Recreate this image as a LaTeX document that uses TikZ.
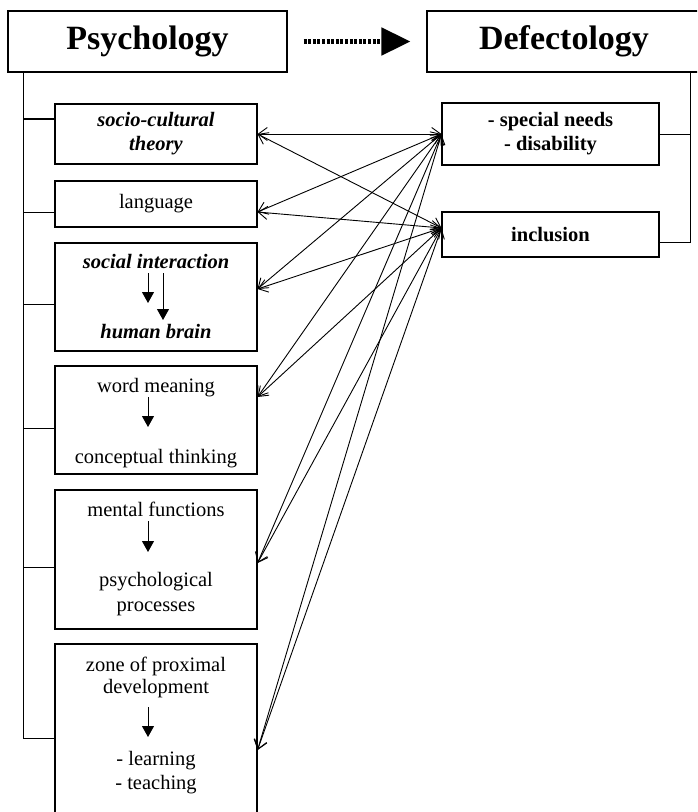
\documentclass[tikz,border=0pt]{standalone}
\usepackage{fontspec}
\setmainfont{Liberation Serif}
\usetikzlibrary{arrows.meta}
\begin{document}
\begin{tikzpicture}[x=1pt,y=-1pt,
  box/.style={draw, line width=1.1pt, inner sep=0pt, align=center, font=\fontsize{20.5}{24}\selectfont},
  bigbox/.style={draw, line width=1.1pt, inner sep=0pt, font=\fontsize{34}{40}\selectfont\bfseries},
  txt/.style={inner sep=0pt, anchor=base, font=\fontsize{20.5}{24}\selectfont},
  bitxt/.style={txt, font=\fontsize{20.5}{24}\selectfont\bfseries\itshape},
  link/.style={line width=0.9pt, {Straight Barb[length=9pt,width=13pt]}-{Straight Barb[length=9pt,width=13pt]}},
  down/.style={line width=1pt, -{Triangle[length=11pt,width=12pt]}},
  branch/.style={line width=1pt}]

\clip (0,0) rectangle (697,812);
\fill[white] (0,0) rectangle (697,812);

% top boxes
\node[bigbox, minimum width=279pt, minimum height=61pt] (psy) at (147.5,41.5) {Psychology};
\node[bigbox, minimum width=274pt, minimum height=61pt] (def) at (564,41.5) {Defectology};
\draw[line width=5pt, dash pattern=on 3pt off 1.6pt, -{Triangle[length=29pt,width=27pt]}]
  ([xshift=16pt]psy.east) -- ([xshift=-16pt]def.west);

% left boxes
\node[box, minimum width=202pt, minimum height=60pt, font=\fontsize{20.5}{24}\selectfont\bfseries\itshape] (soc) at (156,134) {socio-cultural\\theory};
\node[box, minimum width=202pt, minimum height=46pt] (lang) at (156,204) {language};
\node[box, minimum width=202pt, minimum height=108pt] (soi) at (156,297) {};
\node[box, minimum width=202pt, minimum height=108pt] (wrd) at (156,420) {};
\node[box, minimum width=202pt, minimum height=139pt] (men) at (156,559.5) {};
\node[box, minimum width=202pt, minimum height=186pt] (zpd) at (156,737) {};

% texts inside composite boxes
\node[bitxt] (soi1) at (156,268) {social interaction};
\node[bitxt] (soi2) at (156,338) {human brain};
\node[txt] (wrd1) at (156,392) {word meaning};
\node[txt] (wrd2) at (156,463) {conceptual thinking};
\node[txt] (men1) at (156,516) {mental functions};
\node[txt] (men2) at (156,586) {psychological};
\node[txt] (men3) at (156,611) {processes};
\node[txt] (zpd1) at (156,671) {zone of proximal};
\node[txt] (zpd2) at (156,693) {development};
\node[txt] (zpd3) at (156,765) {- learning};
\node[txt] (zpd4) at (156,789) {- teaching};

% inner arrows
\draw[down] (148,273) -- (148,303);
\draw[down] (163,273) -- (163,320);
\draw[down] (148,397) -- (148,427);
\draw[down] (148,521) -- (148,552);
\draw[down] (148,707) -- (148,737);

% right boxes
\node[box, minimum width=217pt, minimum height=62pt, font=\fontsize{20.5}{24}\selectfont\bfseries] (sn) at (550.5,134) {- special needs\\- disability};
\node[box, minimum width=217pt, minimum height=45pt, font=\fontsize{20.5}{24}\selectfont\bfseries] (inc) at (550.5,234.5) {inclusion};

% left trunk and branches
\draw[branch] ([xshift=16pt]psy.south west) |- ([yshift=-1pt]zpd.west);
\draw[line width=1.8pt] ([yshift=15pt]soc.west) -- ++(-31,0);
\draw[branch] ([yshift=-8pt]lang.west) -- ++(-31,0);
\draw[branch] ([yshift=-7pt]soi.west) -- ++(-31,0);
\draw[branch] ([yshift=-8pt]wrd.west) -- ++(-31,0);
\draw[branch] ([yshift=-7.5pt]men.west) -- ++(-31,0);

% right trunk and branches
\coordinate (rt) at (690,72);
\draw[branch] (rt) |- ([yshift=-7.5pt]inc.east);
\draw[branch] (sn.east) -- (sn.east -| rt);

% links
\coordinate (incin) at ([yshift=6.5pt]inc.west);
\draw[link] (soc.east) -- (sn.west);
\draw[link] (soc.east) -- (incin);
\draw[link] ([yshift=-8pt]lang.east) -- (sn.west);
\draw[link] ([yshift=-8pt]lang.east) -- (incin);
\draw[link] ([yshift=8pt]soi.east) -- (sn.west);
\draw[link] ([yshift=8pt]soi.east) -- (incin);
\draw[link] ([yshift=23pt]wrd.east) -- (sn.west);
\draw[link] ([yshift=23pt]wrd.east) -- (incin);
\draw[link] ([yshift=-3.5pt]men.east) -- (sn.west);
\draw[link] ([yshift=-3.5pt]men.east) -- (incin);
\draw[link] ([yshift=-13pt]zpd.east) -- (sn.west);
\draw[link] ([yshift=-13pt]zpd.east) -- (incin);
\end{tikzpicture}
\end{document}
